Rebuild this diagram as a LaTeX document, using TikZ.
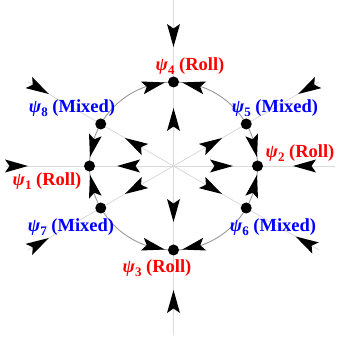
\documentclass[tikz,border=0pt]{standalone}
\usepackage{fontspec}
\setmainfont{Liberation Serif}
\usetikzlibrary{calc}
\newcommand{\psilab}[2]{\textit{ψ}\raisebox{-0.22em}{\fontsize{13}{15}\selectfont #1} (#2)}
\begin{document}
\begin{tikzpicture}[x=1pt,y=1pt,
  ahead/.pic={\fill[black] (0,0) -- (-23,6.5) -- (-18.5,0) -- (-23,-6.5) -- cycle;},
  dot/.style={circle,fill=black,inner sep=0pt,minimum size=11pt},
  axisline/.style={gray!30,line width=0.8pt},
  ring/.style={gray!80,line width=0.9pt},
  lab/.style={font=\fontsize{18.5}{21}\selectfont\bfseries,inner sep=0pt}]
\useasboundingbox (0,0) rectangle (339,341);
\coordinate (C) at (173.5,175);
% axes
\draw[axisline] (173.5,341) -- (173.5,6);
\draw[axisline] (6,175) -- (335,175);
\draw[axisline] ($(C)+(30:168)$) -- ($(C)+(210:168)$);
\draw[axisline] ($(C)+(150:168)$) -- ($(C)+(330:168)$);
% circle
\draw[ring] (C) circle (84);
% fixed points
\foreach \a/\n in {0/p2,30/p5,90/p4,150/p8,180/p1,210/p7,270/p3,330/p6}
  \node[dot] (\n) at ($(C)+(\a:84)$) {};
% arrows on the circle
\foreach \t/\r in {96/13.5,84/166.5,174/256.5,186/103.5,6/-76.5,-6/76.5,264/346.5,276/193.5}
  \pic[rotate=\r] at ($(C)+(\t:84)$) {ahead};
% inner arrows (outward)
\foreach \a/\d in {90/58,270/56,180/56.5,0/59.5,30/56,150/56,210/56,330/56}
  \pic[rotate=\a] at ($(C)+(\a:\d)$) {ahead};
% outer arrows (inward)
\foreach \a/\d in {90/119,270/124,180/145.5,0/119.5,30/144,150/144,210/144,330/141}
  \pic[rotate=\a+180] at ($(C)+(\a:\d)$) {ahead};
% labels
\node[lab,text=red]  (l4) at (190,275) {\psilab{4}{Roll}};
\node[lab,text=blue] (l5) at (275,233) {\psilab{5}{Mixed}};
\node[lab,text=blue] (l8) at (72,233)  {\psilab{8}{Mixed}};
\node[lab,text=red]  (l2) at (300,188) {\psilab{2}{Roll}};
\node[lab,text=red]  (l1) at (47,160)  {\psilab{1}{Roll}};
\node[lab,text=blue] (l7) at (71,114)  {\psilab{7}{Mixed}};
\node[lab,text=blue] (l6) at (273,114) {\psilab{6}{Mixed}};
\node[lab,text=red]  (l3) at (157,73)  {\psilab{3}{Roll}};
\end{tikzpicture}
\end{document}
